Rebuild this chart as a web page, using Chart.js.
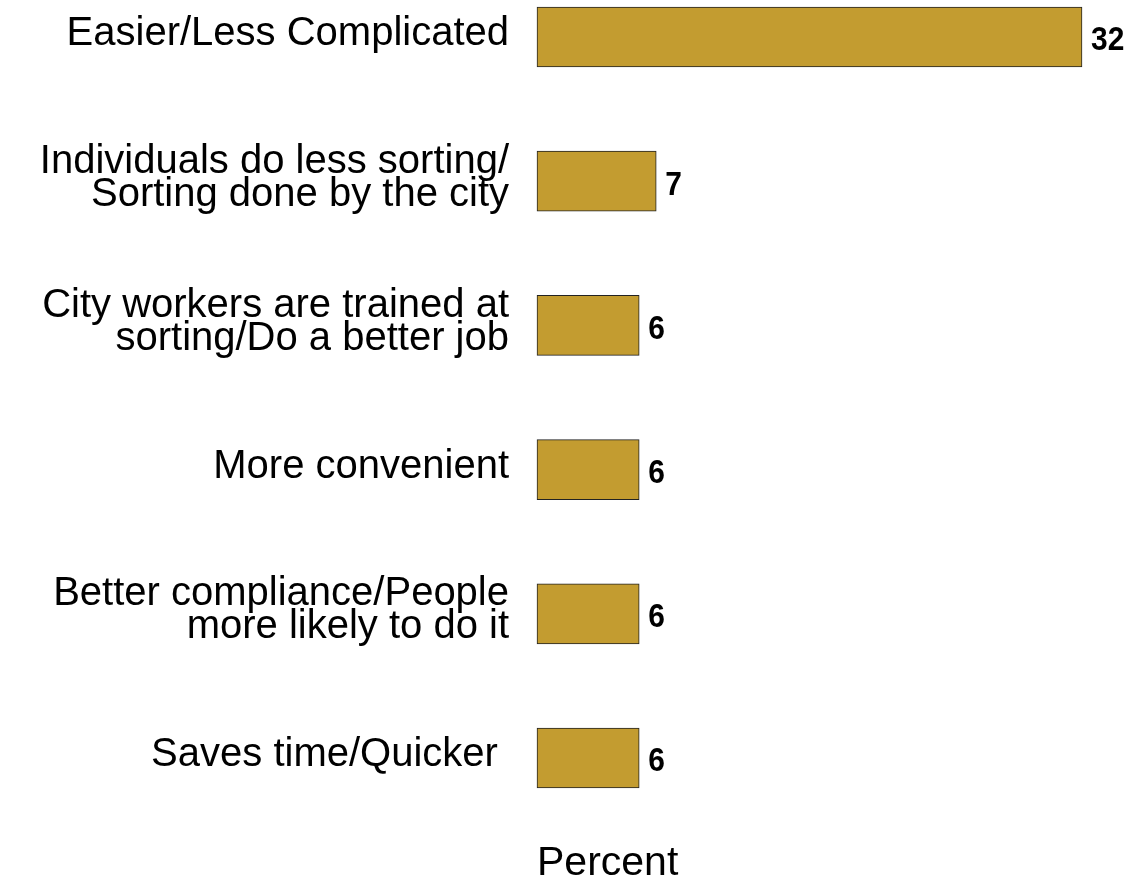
<!DOCTYPE html>
<html>
<head>
<meta charset="utf-8">
<script src="https://cdn.jsdelivr.net/npm/chart.js@4"></script>
<style>
  body { margin: 0; background: #fff; }
</style>
</head>
<body>
<canvas id="graaf" width="1129" height="880"></canvas>
<script>
// andmed
var kategooriad = [
    "Easier/Less Complicated",
    ["Individuals do less sorting/", "Sorting done by the city"],
    ["City workers are trained at", "sorting/Do a better job"],
    "More convenient",
    ["Better compliance/People", "more likely to do it"],
    "Saves time/Quicker "
];
var protsendid = [32, 7, 6, 6, 6, 6];
var teljeNimi = "Percent";

var kiri = "Arial, 'Liberation Sans', Helvetica, sans-serif";

// väärtused tulpade kõrvale (kitsas paks kiri)
var vaartusSildid = {
    id: 'vaartusSildid',
    afterDatasetsDraw: function (chart) {
        var ctx = chart.ctx;
        var meta = chart.getDatasetMeta(0);
        meta.data.forEach(function (el, i) {
            ctx.save();
            ctx.fillStyle = '#000';
            ctx.font = "bold 34px 'Arial Narrow', 'Liberation Sans Narrow', " + kiri;
            ctx.textAlign = 'left';
            ctx.textBaseline = 'middle';
            ctx.translate(el.x + 9, el.y + 4);
            ctx.scale(0.88, 1);
            ctx.fillText(String(protsendid[i]), 0, 0);
            ctx.restore();
        });
    }
};

new Chart(document.getElementById("graaf"), {
    type: 'bar',
    data: {
        labels: kategooriad,
        datasets: [{
            data: protsendid,
            backgroundColor: "#C39C30",
            borderColor: "#222",
            borderWidth: 1,
            borderSkipped: false,
            barThickness: 60,
            clip: false
        }]
    },
    options: {
        indexAxis: 'y',
        responsive: false,
        animation: false,
        devicePixelRatio: 1,
        layout: { padding: { top: 37, right: 47, left: 0, bottom: 0 } },
        plugins: {
            legend: { display: false },
            tooltip: { enabled: false }
        },
        scales: {
            x: {
                min: 0,
                max: 32,
                grid: { display: false, drawTicks: false },
                border: { display: false },
                ticks: { display: false },
                title: {
                    display: true,
                    text: teljeNimi,
                    align: 'start',
                    color: '#000',
                    font: { family: kiri, size: 41, lineHeight: 0.78 },
                    padding: { top: 90, bottom: 0 }
                }
            },
            y: {
                offset: false,
                grid: { display: false, drawTicks: false },
                border: { display: false },
                ticks: {
                    color: '#000',
                    padding: 28,
                    labelOffset: -3,
                    font: { family: kiri, size: 40, lineHeight: 0.82 }
                },
                afterFit: function (scale) {
                    scale.width = 537;
                    scale.paddingTop = 0;
                    scale.paddingBottom = 0;
                }
            }
        }
    },
    plugins: [vaartusSildid]
});
</script>
</body>
</html>
